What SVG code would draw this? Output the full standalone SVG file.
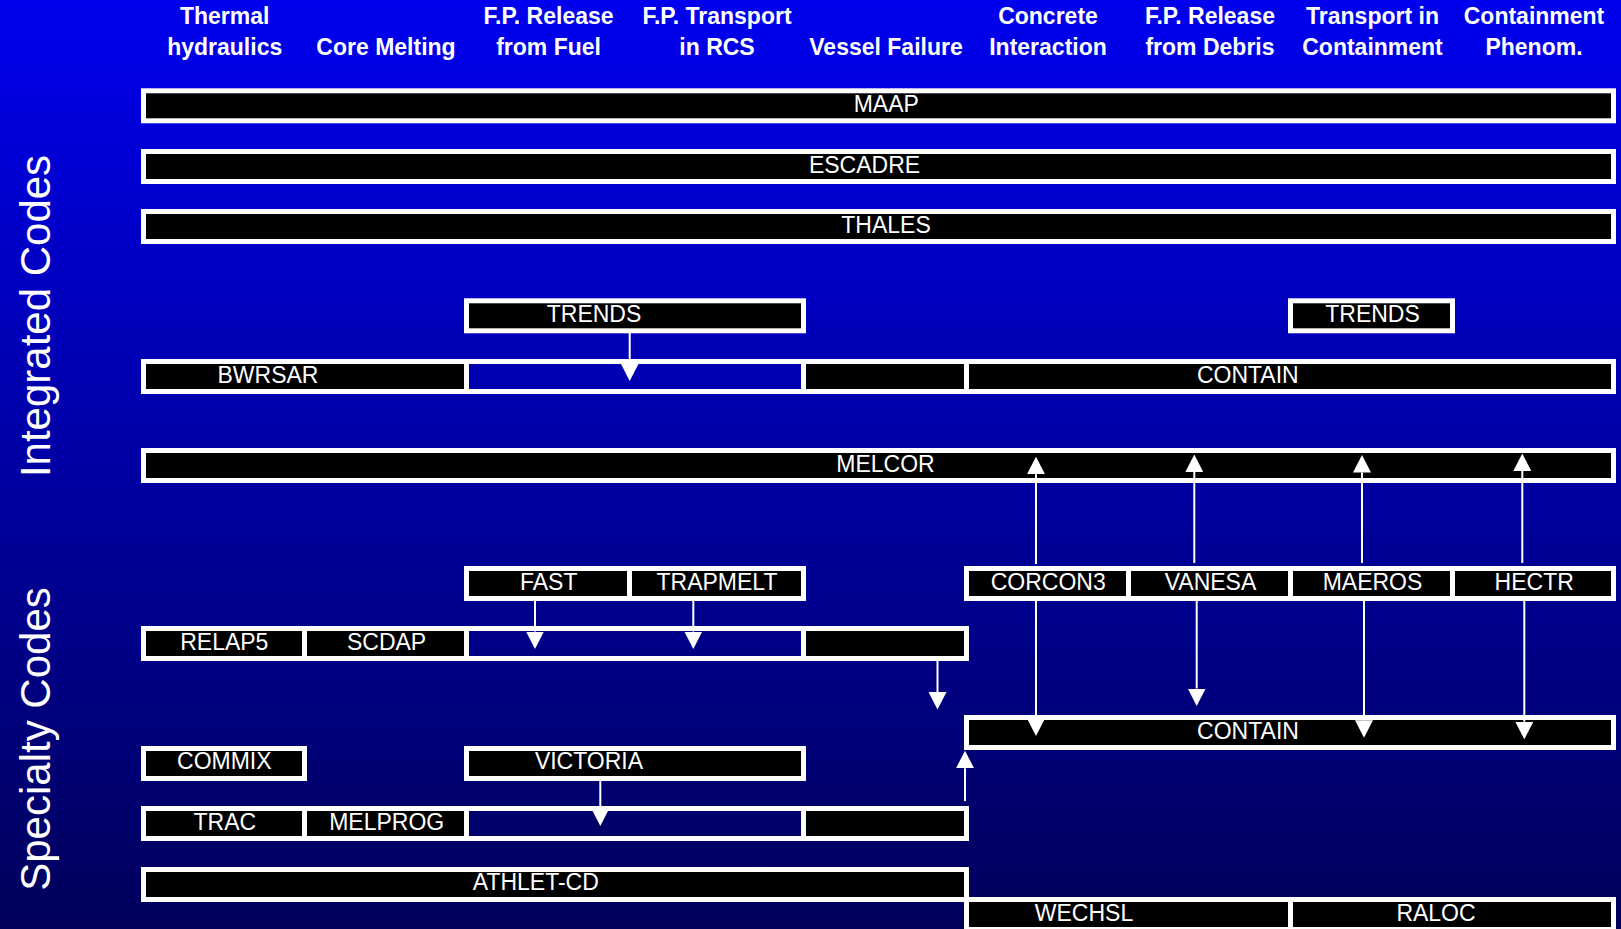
<svg xmlns="http://www.w3.org/2000/svg" width="1621" height="929" viewBox="0 0 1621 929">
<defs>
<linearGradient id="bg" x1="0" y1="0" x2="0" y2="1">
<stop offset="0" stop-color="#0000EE"/>
<stop offset="1" stop-color="#00005A"/>
</linearGradient>
<marker id="ah" viewBox="0 0 17.5 18" markerWidth="17.5" markerHeight="18" markerUnits="userSpaceOnUse" refX="0" refY="9" orient="auto">
<path d="M0,0 L17.5,9 L0,18 Z" fill="#FFFFFF"/>
</marker>
<style>
.box{fill:#000000;stroke:#FFFFFF;stroke-width:5}
.gap{fill:none;stroke:#FFFFFF;stroke-width:5}
.lbl{font-family:"Liberation Sans",Arial,sans-serif;font-size:23px;fill:#FFFFFF;text-anchor:middle}
.hdr{font-family:"Liberation Sans",Arial,sans-serif;font-size:23px;font-weight:bold;fill:#FFFFFF;text-anchor:middle}
.side{font-family:"Liberation Sans",Arial,sans-serif;font-size:42px;fill:#FFFFFF;text-anchor:middle}
.conn line{stroke:#FFFFFF;stroke-width:2;marker-end:url(#ah)}
</style>
</defs>
<rect x="0" y="0" width="1621" height="929" fill="url(#bg)"/>

<g id="headers">
<text class="hdr" x="224.7" y="24">Thermal</text>
<text class="hdr" x="224.7" y="54.5">hydraulics</text>
<text class="hdr" x="386" y="54.5">Core Melting</text>
<text class="hdr" x="548.6" y="24">F.P. Release</text>
<text class="hdr" x="548.6" y="54.5">from Fuel</text>
<text class="hdr" x="717" y="24">F.P. Transport</text>
<text class="hdr" x="717" y="54.5">in RCS</text>
<text class="hdr" x="886" y="54.5">Vessel Failure</text>
<text class="hdr" x="1048" y="24">Concrete</text>
<text class="hdr" x="1048" y="54.5">Interaction</text>
<text class="hdr" x="1210" y="24">F.P. Release</text>
<text class="hdr" x="1210" y="54.5">from Debris</text>
<text class="hdr" x="1372.5" y="24">Transport in</text>
<text class="hdr" x="1372.5" y="54.5">Containment</text>
<text class="hdr" x="1534" y="24">Containment</text>
<text class="hdr" x="1534" y="54.5">Phenom.</text>
</g>

<g id="side-labels">
<text class="side" transform="translate(49.5,316) rotate(-90)">Integrated Codes</text>
<text class="side" transform="translate(49.5,739) rotate(-90)">Specialty Codes</text>
</g>

<g id="maap"><rect class="box" x="143.5" y="90.8" width="1470" height="30"/><text class="lbl" x="886.3" y="111.8">MAAP</text></g>
<g id="escadre"><rect class="box" x="143.5" y="151.5" width="1470" height="30"/><text class="lbl" x="864.5" y="173.2">ESCADRE</text></g>
<g id="thales"><rect class="box" x="143.5" y="211.5" width="1470" height="30"/><text class="lbl" x="886" y="232.7">THALES</text></g>

<g id="trends-1"><rect class="box" x="466.5" y="300.8" width="337" height="30"/><text class="lbl" x="594" y="321.7">TRENDS</text></g>
<g id="trends-2"><rect class="box" x="1290.5" y="300.8" width="162" height="30"/><text class="lbl" x="1372.5" y="321.7">TRENDS</text></g>

<g id="bwrsar"><rect class="box" x="143.5" y="361.5" width="323" height="30"/><text class="lbl" x="268" y="382.7">BWRSAR</text></g>
<g id="bwrsar-fp"><rect class="gap" x="466.5" y="361.5" width="337" height="30"/></g>
<g id="bwrsar-vf"><rect class="box" x="803.5" y="361.5" width="163" height="30"/></g>
<g id="contain-1"><rect class="box" x="966.5" y="361.5" width="647" height="30"/><text class="lbl" x="1247.8" y="382.7">CONTAIN</text></g>

<g id="melcor"><rect class="box" x="143.5" y="450.5" width="1470" height="30"/><text class="lbl" x="885.5" y="471.7">MELCOR</text></g>

<g id="fast"><rect class="box" x="466.5" y="568.5" width="163" height="30"/><text class="lbl" x="548.7" y="589.6">FAST</text></g>
<g id="trapmelt"><rect class="box" x="629.5" y="568.5" width="174" height="30"/><text class="lbl" x="717" y="589.6">TRAPMELT</text></g>
<g id="corcon3"><rect class="box" x="966.5" y="568.5" width="162" height="30"/><text class="lbl" x="1048.2" y="589.6">CORCON3</text></g>
<g id="vanesa"><rect class="box" x="1128.5" y="568.5" width="162" height="30"/><text class="lbl" x="1210.5" y="589.6">VANESA</text></g>
<g id="maeros"><rect class="box" x="1290.5" y="568.5" width="162" height="30"/><text class="lbl" x="1372.5" y="589.6">MAEROS</text></g>
<g id="hectr"><rect class="box" x="1452.5" y="568.5" width="161" height="30"/><text class="lbl" x="1534.2" y="589.6">HECTR</text></g>

<g id="relap5"><rect class="box" x="143.5" y="628.5" width="161" height="30"/><text class="lbl" x="224.3" y="649.7">RELAP5</text></g>
<g id="scdap"><rect class="box" x="304.5" y="628.5" width="162" height="30"/><text class="lbl" x="386.6" y="649.7">SCDAP</text></g>
<g id="relap5-fp"><rect class="gap" x="466.5" y="628.5" width="337" height="30"/></g>
<g id="relap5-vf"><rect class="box" x="803.5" y="628.5" width="163" height="30"/></g>

<g id="contain-2"><rect class="box" x="966.5" y="717.5" width="647" height="30"/><text class="lbl" x="1248" y="738.6">CONTAIN</text></g>

<g id="commix"><rect class="box" x="143.5" y="748.5" width="161" height="30"/><text class="lbl" x="224.3" y="769.3">COMMIX</text></g>
<g id="victoria"><rect class="box" x="466.5" y="748.5" width="337" height="30"/><text class="lbl" x="589" y="769.3">VICTORIA</text></g>

<g id="trac"><rect class="box" x="143.5" y="808.5" width="161" height="30"/><text class="lbl" x="224.8" y="829.5">TRAC</text></g>
<g id="melprog"><rect class="box" x="304.5" y="808.5" width="162" height="30"/><text class="lbl" x="386.7" y="829.5">MELPROG</text></g>
<g id="trac-fp"><rect class="gap" x="466.5" y="808.5" width="337" height="30"/></g>
<g id="trac-vf"><rect class="box" x="803.5" y="808.5" width="163" height="30"/></g>

<g id="athlet-cd"><rect class="box" x="143.5" y="869.5" width="823" height="30"/><text class="lbl" x="535.8" y="890.2">ATHLET-CD</text></g>

<g id="wechsl"><rect class="box" x="966.5" y="899.5" width="324" height="30"/><text class="lbl" x="1084" y="920.5">WECHSL</text></g>
<g id="raloc"><rect class="box" x="1290.5" y="899.5" width="323" height="30"/><text class="lbl" x="1436" y="920.5">RALOC</text></g>

<g id="connectors" class="conn">
<line x1="629.7" y1="331" x2="629.7" y2="363.5"/>
<line x1="1036" y1="564" x2="1036" y2="474.2"/>
<line x1="1194.3" y1="563" x2="1194.3" y2="472"/>
<line x1="1362" y1="563" x2="1362" y2="472.5"/>
<line x1="1522.3" y1="563" x2="1522.3" y2="471"/>
<line x1="535" y1="600" x2="535" y2="631.5"/>
<line x1="693.3" y1="600" x2="693.3" y2="631.5"/>
<line x1="937.5" y1="661" x2="937.5" y2="692"/>
<line x1="1036" y1="600" x2="1036" y2="718.5"/>
<line x1="1196.7" y1="600" x2="1196.7" y2="688.5"/>
<line x1="1364" y1="600" x2="1364" y2="720.2"/>
<line x1="1524.3" y1="600" x2="1524.3" y2="721.8"/>
<line x1="600.3" y1="780" x2="600.3" y2="808.5"/>
<line x1="965" y1="801" x2="965" y2="768.2"/>
</g>
</svg>
